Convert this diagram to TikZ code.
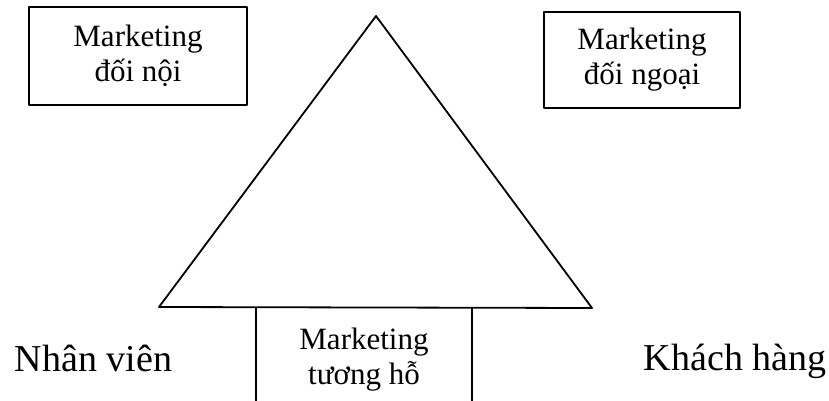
\documentclass[tikz,border=0pt]{standalone}
\usepackage{fontspec}
\setmainfont{Liberation Serif}
\begin{document}
\begin{tikzpicture}[x=1pt,y=-1pt, line width=1.8pt, line join=round,
  boxt/.style={font=\fontsize{31}{35}\selectfont, align=center, inner sep=0pt},
  frame/.style={draw, boxt},
  lbl/.style={font=\fontsize{38}{44}\selectfont, inner sep=0pt}]
\useasboundingbox (0,0) rectangle (829,401);
\node[frame, minimum width=218pt, minimum height=98pt] (inner) at (138,56) {Marketing\\đối nội};
\node[frame, minimum width=196pt, minimum height=96pt] (outer) at (642,60) {Marketing\\đối ngoại};
\coordinate (apex) at (376,16);
\coordinate (bl) at (159,307);
\coordinate (br) at (592,308);
\draw (bl) -- (apex) -- (br) -- cycle;
\coordinate (v1t) at (256,307);
\coordinate (v1b) at (256,401);
\coordinate (v2t) at (472,308);
\coordinate (v2b) at (472,401);
\draw (v1t) -- (v1b);
\draw (v2t) -- (v2b);
\node[boxt] (mutual) at (364,360) {Marketing\\tương hỗ};
\node[lbl, anchor=base west] (staff) at (14,371) {Nhân viên};
\node[lbl, anchor=base west] (cust) at (643,370) {Khách hàng};
\end{tikzpicture}
\end{document}
